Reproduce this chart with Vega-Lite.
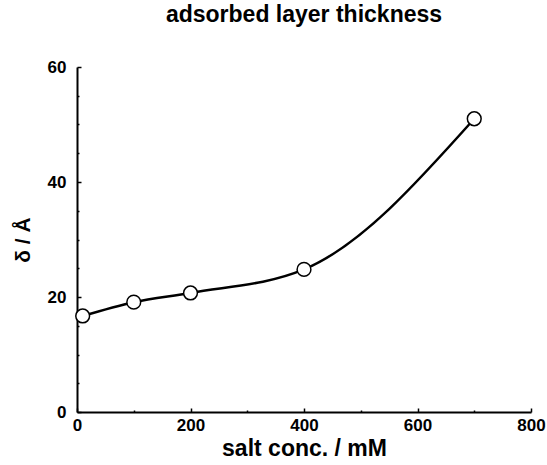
{
  "$schema": "https://vega.github.io/schema/vega-lite/v6.json",
  "autosize": {"type": "none"},
  "padding": {"left": 77, "top": 67, "right": 16, "bottom": 53},
  "width": 454,
  "height": 345,
  "background": "white",
  "config": {
    "view": {"stroke": null},
    "font": "Liberation Sans"
  },
  "title": {
    "text": "adsorbed layer thickness",
    "font": "Liberation Sans",
    "fontSize": 23,
    "fontWeight": "bold",
    "color": "black",
    "anchor": "middle",
    "offset": 31
  },
  "data": {
    "values": [
      {"conc": 10, "delta": 16.7},
      {"conc": 100, "delta": 19.1},
      {"conc": 200, "delta": 20.7},
      {"conc": 400, "delta": 24.8},
      {"conc": 700, "delta": 51.0}
    ]
  },
  "encoding": {
    "x": {
      "field": "conc",
      "type": "quantitative",
      "scale": {"domain": [0, 800], "nice": false, "zero": false},
      "axis": {
        "title": "salt conc. / mM",
        "titleFont": "Liberation Sans",
        "titleFontSize": 23,
        "titleFontWeight": "bold",
        "titleColor": "black",
        "titlePadding": 2,
        "values": [0, 100, 200, 300, 400, 500, 600, 700, 800],
        "labelExpr": "datum.value % 200 === 0 ? datum.label : ''",
        "labelFont": "Liberation Sans",
        "labelFontSize": 17,
        "labelFontWeight": "bold",
        "labelColor": "black",
        "labelPadding": 9,
        "labelFlush": false,
        "labelOverlap": false,
        "grid": false,
        "domainColor": "black",
        "domainWidth": 2,
        "tickColor": "black",
        "tickWidth": 1.5,
        "tickSize": {"condition": {"test": "datum.value % 200 === 0", "value": -4}, "value": -2}
      }
    },
    "y": {
      "field": "delta",
      "type": "quantitative",
      "scale": {"domain": [0, 60], "nice": false, "zero": false},
      "axis": {
        "title": "δ / Å",
        "titleFont": "Liberation Sans",
        "titleFontSize": 21,
        "titleFontWeight": "bold",
        "titleColor": "black",
        "titlePadding": 14,
        "values": [0, 5, 10, 15, 20, 25, 30, 35, 40, 45, 50, 55, 60],
        "labelExpr": "datum.value % 20 === 0 ? datum.label : ''",
        "labelFont": "Liberation Sans",
        "labelFontSize": 17,
        "labelFontWeight": "bold",
        "labelColor": "black",
        "labelPadding": 15,
        "labelFlush": false,
        "labelOverlap": false,
        "grid": false,
        "domainColor": "black",
        "domainWidth": 2,
        "tickColor": "black",
        "tickWidth": 1.5,
        "tickSize": {"condition": {"test": "datum.value % 20 === 0", "value": -4}, "value": -2}
      }
    }
  },
  "layer": [
    {
      "mark": {"type": "line", "interpolate": "monotone", "color": "black", "strokeWidth": 2.5}
    },
    {
      "mark": {"type": "point", "shape": "circle", "filled": true, "fill": "white", "stroke": "black", "strokeWidth": 1.5, "size": 190, "opacity": 1}
    }
  ]
}
